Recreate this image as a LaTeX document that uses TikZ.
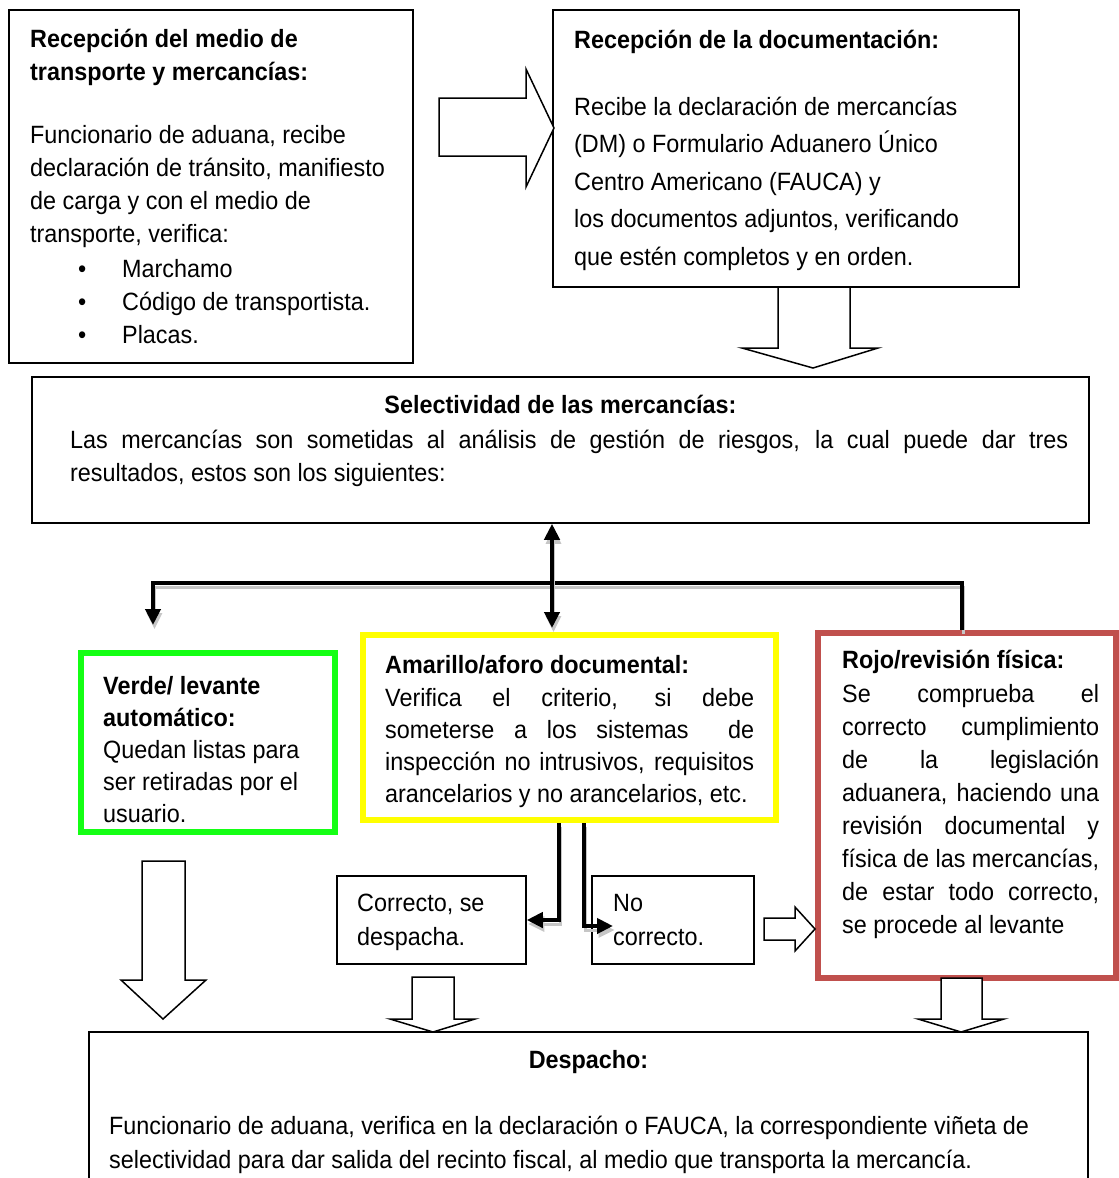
\documentclass[tikz,border=0pt]{standalone}
\usepackage{fontspec}
\setmainfont{Liberation Sans}[FakeStretch=0.935]
\usetikzlibrary{arrows.meta}
\definecolor{verdeL}{RGB}{20,255,20}
\definecolor{amarilloL}{RGB}{255,255,0}
\definecolor{rojoL}{RGB}{192,80,77}
\tikzset{
  caja/.style={draw, line width=1.5, inner sep=0},
  cajaverde/.style={draw=verdeL, line width=6, inner sep=0},
  cajaamarilla/.style={draw=amarilloL, line width=6, inner sep=0},
  cajaroja/.style={draw=rojoL, line width=6, inner sep=0},
  texto/.style={anchor=base west, inner sep=0, align=justify, font=\fontsize{25}{33}\selectfont},
  titulo/.style={texto, font=\fontsize{25}{33}\selectfont\bfseries},
  tituloc/.style={anchor=base, inner sep=0, font=\fontsize{25}{33}\selectfont\bfseries},
  Flecha/.tip={Triangle[length=16pt,width=15pt]},
  conector/.style={line width=4, preaction={draw=gray!45, line width=3, transform canvas={shift={(1.5,-4)}}}},
  flechagrande/.style={draw, fill=white, line width=1.5},
}
\begin{document}
\begin{tikzpicture}[x=1pt,y=1pt,yscale=-1,xscale=1]
\useasboundingbox (0,0) rectangle (1119,1178);

%Shape: Rectangle [recepcion del medio]
\node[caja, minimum width=404, minimum height=353] (recmedio) at (211,186.5) {};
%Shape: Rectangle [recepcion documentacion]
\node[caja, minimum width=466, minimum height=277] (recdoc) at (786,148.5) {};
%Shape: Rectangle [selectividad]
\node[caja, minimum width=1057, minimum height=146] (selec) at (560.5,450) {};
%Shape: Rectangle [verde]
\node[cajaverde, minimum width=254, minimum height=179] (verde) at (208,742.5) {};
%Shape: Rectangle [amarillo]
\node[cajaamarilla, minimum width=413, minimum height=185] (amarillo) at (569.5,727.5) {};
%Shape: Rectangle [rojo]
\node[cajaroja, minimum width=298, minimum height=345] (rojo) at (967,805.5) {};
%Shape: Rectangle [correcto]
\node[caja, minimum width=189, minimum height=88] (correcto) at (431.5,920) {};
%Shape: Rectangle [no correcto]
\node[caja, minimum width=162, minimum height=88] (nocorrecto) at (673,920) {};
%Shape: Rectangle [despacho]
\node[caja, minimum width=999, minimum height=158] (despacho) at (588.5,1111) {};

% Text Node
\node[titulo, text width=380] (recmedio-tit) at (30,47) {Recepción del medio de\\transporte y mercancías:};
% Text Node
\node[texto, text width=380, font=\fontsize{25}{33.3}\selectfont] (recmedio-txt) at (30,143) {Funcionario de aduana, recibe\\declaración de tránsito, manifiesto\\de carga y con el medio de\\transporte, verifica:};
% Text Node
\node[texto, text width=330] (recmedio-lista) at (78,277) {\makebox[44pt][l]{•}Marchamo\\\makebox[44pt][l]{•}Código de transportista.\\\makebox[44pt][l]{•}Placas.};
% Text Node
\node[titulo, text width=440] (recdoc-tit) at (574,48) {Recepción de la documentación:};
% Text Node
\node[texto, text width=440, font=\fontsize{25}{37.5}\selectfont] (recdoc-txt) at (574,115) {Recibe la declaración de mercancías\\(DM) o Formulario Aduanero Único\\Centro Americano (FAUCA) y\\los documentos adjuntos, verificando\\que estén completos y en orden.};
% Text Node
\node[tituloc] (selec-tit) at (560.5,413) {Selectividad de las mercancías:};
% Text Node
\node[texto, text width=1000] (selec-txt) at (70,448) {\makebox[998pt][s]{Las mercancías son sometidas al análisis de gestión de riesgos, la cual puede dar tres}\\resultados, estos son los siguientes:};
% Text Node
\node[titulo, text width=230, font=\fontsize{25}{32}\selectfont\bfseries] (verde-tit) at (103,694) {Verde/ levante\\automático:};
% Text Node
\node[texto, text width=230, font=\fontsize{25}{32}\selectfont] (verde-txt) at (103,758) {Quedan listas para\\ser retiradas por el\\usuario.};
% Text Node
\node[titulo, text width=372] (amarillo-tit) at (385,673) {Amarillo/aforo documental:};
% Text Node
\node[texto, text width=372, font=\fontsize{25}{32.3}\selectfont] (amarillo-txt) at (385,706) {\makebox[369pt][s]{Verifica el criterio, si debe}\\\makebox[369pt][s]{someterse a los sistemas\ \ de}\\\makebox[369pt][s]{inspección no intrusivos, requisitos}\\arancelarios y no arancelarios, etc.};
% Text Node
\node[titulo, text width=262] (rojo-tit) at (842,668) {Rojo/revisión física:};
% Text Node
\node[texto, text width=262] (rojo-txt) at (842,702) {\makebox[257pt][s]{Se comprueba el}\\\makebox[257pt][s]{correcto cumplimiento}\\\makebox[257pt][s]{de la legislación}\\\makebox[257pt][s]{aduanera, haciendo una}\\\makebox[257pt][s]{revisión documental y}\\\makebox[257pt][s]{física de las mercancías,}\\\makebox[257pt][s]{de estar todo correcto,}\\se procede al levante};
% Text Node
\node[texto, text width=160, font=\fontsize{25}{34}\selectfont] (correcto-txt) at (357,911) {Correcto, se\\despacha.};
% Text Node
\node[texto, text width=130, font=\fontsize{25}{34}\selectfont] (nocorrecto-txt) at (613,911) {No\\correcto.};
% Text Node
\node[tituloc] (despacho-tit) at (588.5,1068) {Despacho:};
% Text Node
\node[texto, text width=970, font=\fontsize{25}{34}\selectfont] (despacho-txt) at (109,1134) {Funcionario de aduana, verifica en la declaración o FAUCA, la correspondiente viñeta de\\selectividad para dar salida del recinto fiscal, al medio que transporta la mercancía.};

%Connectors
\coordinate (dobleX) at (552,583);
\coordinate (ramalR) at (962,583);
\coordinate (ramalL) at (153,583);
\coordinate (verdeTip) at (153,625);
\coordinate (amIzq) at (559,0);
\coordinate (amDer) at (584,0);
\coordinate (noTip) at (613,926);
\draw[conector, -{Flecha}] (rojo.north -| ramalR) -- (ramalR) -- (ramalL) -- (verdeTip);
\draw[conector, {Flecha}-{Flecha}, shorten >=4] (selec.south -| dobleX) -- (amarillo.north -| dobleX);
\draw[conector, -{Flecha}] (amarillo.south -| amIzq) |- (correcto.east);
\draw[conector, -{Flecha}] (amarillo.south -| amDer) |- (noTip);

%Block Arrows
\draw[flechagrande] (439,98) -- (526,98) -- (526,69) -- (554,128) -- (526,187) -- (526,156) -- (439,156) -- cycle;
\draw[flechagrande] (778,287) -- (778,348) -- (742,348) -- (813,368) -- (878,348) -- (850,348) -- (850,287) -- cycle;
\draw[flechagrande] (142,861) -- (142,980) -- (121,980) -- (163,1019) -- (206,980) -- (185,980) -- (185,861) -- cycle;
\draw[flechagrande] (412,977) -- (412,1019) -- (390,1019) -- (433,1032) -- (475,1019) -- (454,1019) -- (454,977) -- cycle;
\draw[flechagrande] (941,978) -- (941,1019) -- (918,1019) -- (961,1032) -- (1004,1019) -- (982,1019) -- (982,978) -- cycle;
\draw[flechagrande] (764,918) -- (795,918) -- (795,907) -- (815,929) -- (795,951) -- (795,940) -- (764,940) -- cycle;
\end{tikzpicture}
\end{document}
